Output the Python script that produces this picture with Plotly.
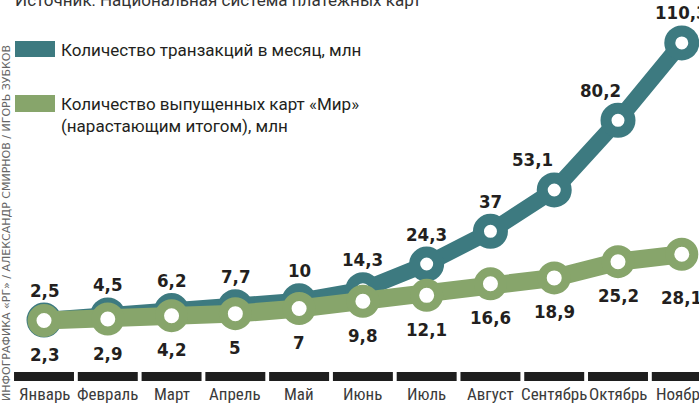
import plotly.graph_objects as go

# ---------------- data ----------------
months = ["Январь", "Февраль", "Март", "Апрель", "Май", "Июнь",
          "Июль", "Август", "Сентябрь", "Октябрь", "Ноябрь"]
transactions = [2.5, 4.5, 6.2, 7.7, 10, 14.3, 24.3, 37, 53.1, 80.2, 110.3]
cards = [2.3, 2.9, 4.2, 5, 7, 9.8, 12.1, 16.6, 18.9, 25.2, 28.1]

series_names = ["Количество транзакций в месяц, млн",
                "Количество выпущенных карт «Мир»<br>(нарастающим итогом), млн"]
source_text = "Источник: Национальная система платежных карт"
credit_text = "ИНФОГРАФИКА «РГ» / АЛЕКСАНДР СМИРНОВ / ИГОРЬ ЗУБКОВ"

# ---------------- style ----------------
W, H = 699, 409
TEAL = "#3d7a80"
GREEN = "#87a56b"
DARK = "#231f20"
LABEL_FONT = "DejaVu Sans Condensed, DejaVu Sans, sans-serif"
MONTH_FONT = "Roboto Condensed, DejaVu Sans Condensed, sans-serif"
TEXT_FONT = "Roboto, Noto Sans, sans-serif"

# label offsets (pixels) to keep numbers clear of the lines
teal_xshift = [0, 0, 0, 0, 0, 0, 0, 0, -22, -18, 0]
teal_yshift = [30] * 11
green_xshift = [0] * 11
green_yshift = [-34] * 10 + [-43]


def fmt(v):
    return f"{v:g}".replace(".", ",")


def py(p):
    """pixel row -> paper y"""
    return 1 - p / H


def px(p):
    return p / W


fig = go.Figure()

idx = list(range(len(months)))

fig.add_trace(go.Scatter(
    x=idx, y=transactions, mode="lines+markers",
    line=dict(color=TEAL, width=16),
    marker=dict(size=24, color="white", line=dict(color=TEAL, width=11)),
    hoverinfo="skip", showlegend=False, cliponaxis=False,
))
fig.add_trace(go.Scatter(
    x=idx, y=cards, mode="lines+markers",
    line=dict(color=GREEN, width=18),
    marker=dict(size=24, color="white", line=dict(color=GREEN, width=9)),
    hoverinfo="skip", showlegend=False, cliponaxis=False,
))

annotations = []
shapes = []

# value labels
for i, v in enumerate(transactions):
    annotations.append(dict(
        x=i, y=v, xref="x", yref="y", text=fmt(v), showarrow=False,
        xshift=teal_xshift[i], yshift=teal_yshift[i],
        font=dict(family=LABEL_FONT, size=18.5, color=DARK, weight="bold"),
    ))
for i, v in enumerate(cards):
    annotations.append(dict(
        x=i, y=v, xref="x", yref="y", text=fmt(v), showarrow=False,
        xshift=green_xshift[i], yshift=green_yshift[i],
        font=dict(family=LABEL_FONT, size=18.5, color=DARK, weight="bold"),
    ))

# month bars and labels
for i, m in enumerate(months):
    shapes.append(dict(
        type="rect", xref="x", yref="paper",
        x0=i - 0.47, x1=i + 0.47, y0=py(381), y1=py(372),
        fillcolor="#1e1e1e", line=dict(width=0), layer="above",
    ))
    annotations.append(dict(
        x=i, y=py(394), xref="x", yref="paper", text=m, showarrow=False,
        yanchor="middle",
        font=dict(family=MONTH_FONT, size=17, color="#3a3a3a"),
    ))

# legend
shapes.append(dict(type="rect", xref="paper", yref="paper",
                   x0=px(15), x1=px(55), y0=py(57), y1=py(41),
                   fillcolor=TEAL, line=dict(width=0)))
shapes.append(dict(type="rect", xref="paper", yref="paper",
                   x0=px(15), x1=px(55), y0=py(112), y1=py(95),
                   fillcolor=GREEN, line=dict(width=0)))
annotations.append(dict(
    x=px(59), y=py(50), xref="paper", yref="paper", text=series_names[0],
    showarrow=False, xanchor="left", yanchor="middle", align="left",
    font=dict(family=TEXT_FONT, size=17, color=DARK),
))
annotations.append(dict(
    x=px(59), y=py(115), xref="paper", yref="paper", text=series_names[1],
    showarrow=False, xanchor="left", yanchor="middle", align="left",
    font=dict(family=TEXT_FONT, size=17, color=DARK),
))

# source (cut at top)
annotations.append(dict(
    x=px(13), y=py(0), xref="paper", yref="paper", text=source_text,
    showarrow=False, xanchor="left", yanchor="middle", align="left",
    font=dict(family=TEXT_FONT, size=17, color="#333333"),
))

# vertical credit
annotations.append(dict(
    x=px(6), y=py(223), xref="paper", yref="paper", text=credit_text,
    showarrow=False, textangle=-90, xanchor="center", yanchor="middle",
    font=dict(family="DejaVu Sans, sans-serif", size=11, color="#666666"),
))

fig.update_layout(
    width=W, height=H,
    margin=dict(l=0, r=0, t=0, b=0),
    paper_bgcolor="white", plot_bgcolor="white",
    xaxis=dict(range=[-0.69, 10.27], visible=False, fixedrange=True),
    yaxis=dict(range=[-32.1, 127.0], visible=False, fixedrange=True),
    shapes=shapes, annotations=annotations,
    showlegend=False,
)

fig.write_html("out.html")
